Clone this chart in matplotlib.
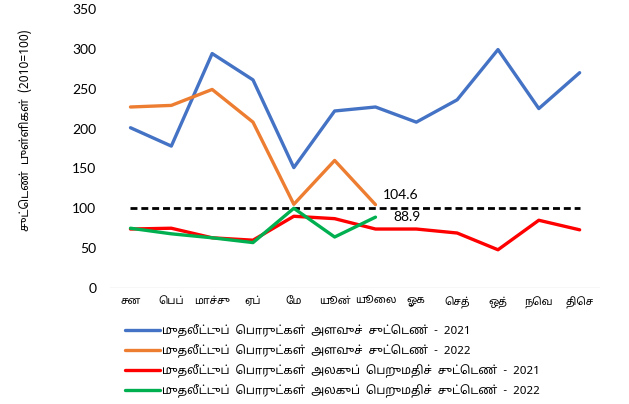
import matplotlib
matplotlib.use("Agg")
import matplotlib.pyplot as plt

months = ["சன", "பெப்", "மாச்சு", "ஏப்", "மே", "யூன்", "யூலை",
          "ஓக", "செத்", "ஒத்", "நவெ", "திசெ"]
vol_2021 = [201, 178, 294, 261, 151, 222, 227, 208, 236, 299, 225, 270]
vol_2022 = [227, 229, 249, 208, 105, 160, 104.6]
unit_2021 = [74, 75, 63, 60, 90, 87, 74, 74, 69, 48, 85, 73]
unit_2022 = [75, 68, 63, 57, 100, 64, 88.9]
base = [100] * 12
labels = [
    "முதலீட்டுப்  பொருட்கள்  அளவுச்  சுட்டெண்  -  2021",
    "முதலீட்டுப்  பொருட்கள்  அளவுச்  சுட்டெண்  -  2022",
    "முதலீட்டுப்  பொருட்கள்  அலகுப்  பெறுமதிச்  சுட்டெண்  -  2021",
    "முதலீட்டுப்  பொருட்கள்  அலகுப்  பெறுமதிச்  சுட்டெண்  -  2022",
]
ylabel = "சுட்டெண்  புள்ளிகள்  (2010=100)"


def tamil(s):
    # matplotlib does no shaping: put prefix vowel signs before the consonant
    out = []
    for ch in s:
        if ch in "\u0BC6\u0BC7\u0BC8" and out:
            out.insert(len(out) - 1, ch)
        elif ch == "\u0BCA" and out:
            out.insert(len(out) - 1, "\u0BC6"); out.append("\u0BBE")
        elif ch == "\u0BCB" and out:
            out.insert(len(out) - 1, "\u0BC7"); out.append("\u0BBE")
        elif ch == "\u0BCC" and out:
            out.insert(len(out) - 1, "\u0BC6"); out.append("\u0BD7")
        else:
            out.append(ch)
    return "".join(out)


TA = ["Noto Sans Tamil", "DejaVu Sans"]
NUM = ["Lato", "DejaVu Sans"]

fig = plt.figure(figsize=(6.29, 4.04), dpi=100)
ax = fig.add_axes([0.175, 0.287, 0.779, 0.691])

x = list(range(12))
ax.plot(x, base, color="black", lw=2, ls=(0, (2.5, 1.4)), zorder=1)
l1, = ax.plot(x, vol_2021, color="#4472C4", lw=2.4, solid_capstyle="round")
l2, = ax.plot(x[:len(vol_2022)], vol_2022, color="#ED7D31", lw=2.4, solid_capstyle="round")
l3, = ax.plot(x, unit_2021, color="#FF0000", lw=2.4, solid_capstyle="round")
l4, = ax.plot(x[:len(unit_2022)], unit_2022, color="#00B050", lw=2.4, solid_capstyle="round")

ax.annotate("%.1f" % vol_2022[-1], (6, vol_2022[-1]), xytext=(7, 10),
            textcoords="offset pixels", ha="left", va="center", fontsize=10, family=NUM)
ax.annotate("%.1f" % unit_2022[-1], (6, unit_2022[-1]), xytext=(18, 0),
            textcoords="offset pixels", ha="left", va="center", fontsize=10, family=NUM)

ax.set_xlim(-0.5, 11.5)
ax.set_ylim(0, 350)
ax.set_yticks(range(0, 351, 50))
ax.set_xticks(x)
ax.set_xticklabels([tamil(m) for m in months], family=TA, fontsize=7.5)
for t in ax.get_yticklabels():
    t.set_family(NUM)
    t.set_fontsize(10)
ax.tick_params(axis="x", length=0, pad=6)
ax.tick_params(axis="y", length=0, pad=10)
for s in ax.spines.values():
    s.set_visible(False)
ax.axhline(0, color="#d9d9d9", lw=1, zorder=0)

fig.text(0.04, 0.678, tamil(ylabel), rotation=90, ha="center", va="center",
         family=TA, fontsize=8.5)

fig.legend([l1, l2, l3, l4], [tamil(s) for s in labels], loc="upper left",
           bbox_to_anchor=(0.19, 0.212), frameon=False, prop={"family": TA, "size": 8.3},
           handlelength=3.0, handletextpad=0.15, labelspacing=0.55, borderpad=0)

fig.savefig("out.png")
